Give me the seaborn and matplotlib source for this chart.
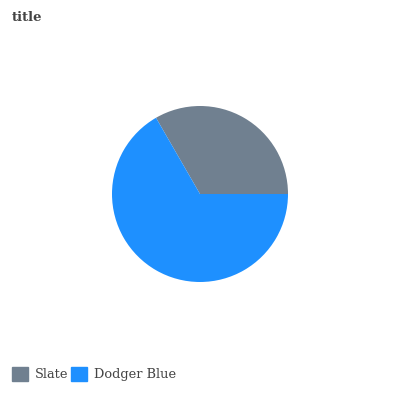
import matplotlib
matplotlib.use("Agg")
import matplotlib.pyplot as plt
import matplotlib.patches as mpatches
import seaborn as sns

# data
labels = ["Slate", "Dodger Blue"]
values = [1, 2]
colors = ["#708090", "#1E90FF"]

sns.set_style("white")
plt.rcParams['font.family'] = ['DejaVu Serif']

fig = plt.figure(figsize=(4, 4), dpi=100)
ax = fig.add_axes([0.28, 0.295, 0.44, 0.44])
ax.pie(values, colors=colors, startangle=0, counterclock=True, radius=1,
       wedgeprops={'linewidth': 0})
ax.set_xlim(-1, 1)
ax.set_ylim(-1, 1)
ax.set_aspect('equal')
ax.axis('off')

fig.text(0.03, 0.957, "title", fontsize=9.5, fontweight='bold', color='#444444',
         ha='left', va='center')

handles = [mpatches.Patch(color=c, label=l) for c, l in zip(colors, labels)]
fig.legend(handles=handles, loc='lower left', bbox_to_anchor=(0.0, 0.018), ncol=2,
           frameon=False, fontsize=9.3, handlelength=1.25, handleheight=1.25,
           handletextpad=0.55, columnspacing=0.2, labelcolor='#444444')

fig.savefig("out.png", dpi=100)
